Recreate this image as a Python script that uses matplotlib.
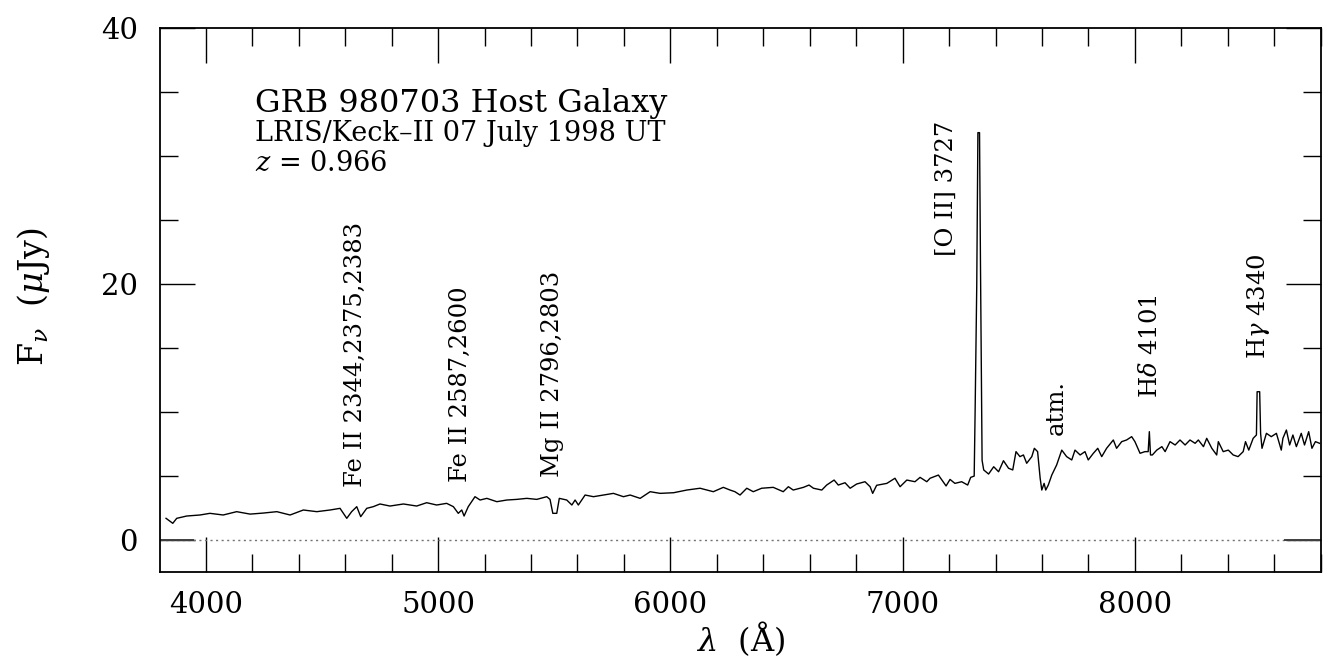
import matplotlib
matplotlib.use("Agg")
import matplotlib.pyplot as plt

wavelength = [3829, 3858, 3875, 3918, 3975, 4018, 4075, 4133, 4191, 4247,
              4306, 4363, 4420, 4478, 4535, 4578, 4607, 4628, 4650, 4667,
              4693, 4721, 4750, 4793, 4851, 4908, 4951, 4994, 5037, 5066,
              5087, 5102, 5112, 5130, 5159, 5181, 5210, 5253, 5296, 5339,
              5382, 5425, 5468, 5482, 5494, 5511, 5522, 5554, 5576, 5590,
              5604, 5633, 5669, 5712, 5755, 5798, 5827, 5870, 5913, 5956,
              6014, 6071, 6128, 6185, 6228, 6257, 6278, 6300, 6329, 6357,
              6393, 6443, 6486, 6508, 6529, 6573, 6597, 6616, 6652, 6673,
              6705, 6723, 6752, 6774, 6802, 6838, 6860, 6871, 6888, 6932,
              6967, 6989, 7018, 7053, 7075, 7104, 7118, 7154, 7169, 7187,
              7204, 7225, 7254, 7280, 7293, 7308, 7312, 7319, 7324, 7331,
              7335, 7342, 7349, 7370, 7392, 7413, 7434, 7456, 7474, 7488,
              7505, 7520, 7534, 7556, 7567, 7581, 7592, 7599, 7609, 7616,
              7627, 7642, 7663, 7685, 7706, 7728, 7742, 7764, 7785, 7799,
              7821, 7840, 7857, 7878, 7907, 7921, 7943, 7964, 7986, 8000,
              8022, 8043, 8057, 8062, 8067, 8075, 8094, 8116, 8130, 8151,
              8173, 8194, 8216, 8237, 8259, 8273, 8295, 8309, 8331, 8352,
              8359, 8380, 8402, 8423, 8444, 8466, 8476, 8490, 8509, 8523,
              8526, 8537, 8541, 8547, 8566, 8587, 8609, 8630, 8637, 8652,
              8666, 8680, 8695, 8716, 8730, 8748, 8762, 8777, 8795]
flux = [1.67, 1.28, 1.67, 1.85, 1.93, 2.06, 1.93, 2.19, 2.00, 2.08,
        2.19, 1.93, 2.32, 2.19, 2.32, 2.45, 1.67, 2.19, 2.58, 1.80,
        2.45, 2.58, 2.79, 2.63, 2.79, 2.63, 2.89, 2.71, 2.84, 2.58,
        2.06, 2.32, 1.85, 2.58, 3.36, 3.10, 3.23, 2.97, 3.10, 3.15,
        3.23, 3.15, 3.36, 3.15, 2.06, 2.06, 3.23, 3.10, 2.71, 3.10,
        2.71, 3.49, 3.36, 3.49, 3.62, 3.36, 3.49, 3.23, 3.75, 3.62,
        3.67, 3.88, 4.02, 3.75, 4.09, 3.88, 3.75, 3.49, 4.02, 3.75,
        4.02, 4.09, 3.75, 4.14, 3.88, 4.09, 4.27, 4.02, 3.88, 4.27,
        4.66, 4.27, 4.45, 4.02, 4.35, 4.53, 4.14, 3.62, 4.25, 4.40,
        4.80, 4.14, 4.66, 4.53, 4.87, 4.53, 4.80, 5.05, 4.66, 4.20,
        4.71, 4.40, 4.53, 4.27, 4.87, 4.97, 10.0, 19.8, 31.8, 31.8,
        21.7, 6.20, 5.45, 5.13, 5.70, 5.31, 6.17, 5.58, 5.45, 6.88,
        6.49, 6.62, 5.97, 6.49, 7.14, 6.88, 4.80, 3.88, 4.40, 3.88,
        4.27, 5.05, 5.84, 7.00, 6.49, 6.23, 7.00, 6.62, 6.88, 6.23,
        6.75, 7.14, 6.49, 7.14, 7.79, 7.14, 7.66, 7.79, 8.05, 7.66,
        6.75, 6.88, 6.88, 8.44, 6.62, 6.62, 7.00, 7.27, 6.88, 7.66,
        7.40, 7.79, 7.40, 7.79, 7.53, 7.79, 7.27, 7.92, 7.14, 6.62,
        7.66, 6.88, 7.00, 6.62, 6.49, 6.88, 7.66, 7.00, 7.92, 8.18,
        11.56, 11.56, 8.31, 7.14, 8.31, 8.05, 8.31, 7.00, 7.92, 8.57,
        7.40, 8.18, 7.27, 8.31, 7.40, 8.44, 7.14, 7.66, 7.53]

# Line identifications: text, wavelength of label, flux at label bottom
line_names = ["Fe II 2344,2375,2383", "Fe II 2587,2600", "Mg II 2796,2803",
              "[O II] 3727", "atm.", r"H$\delta$ 4101", r"H$\gamma$ 4340"]
line_wave = [4643, 5095, 5491, 7190, 7663, 8065, 8530]
line_flux = [4.1, 4.5, 4.9, 22.2, 8.2, 11.1, 14.1]

plt.rcParams['font.family'] = ['DejaVu Serif']
plt.rcParams['mathtext.fontset'] = 'dejavuserif'

W, H = 1323, 667
fig = plt.figure(figsize=(W / 100, H / 100), dpi=100)
ax = fig.add_axes([160 / W, 1 - 571.7 / H, 1161 / W, 544 / H])

# zero level: dotted, with short solid bits at the ends
ax.axhline(0, color="0.45", lw=1.0, ls=(0, (1.5, 2.5)))
ax.plot([3803, 3946], [0, 0], color="0.25", lw=1.4)
ax.plot([8646, 8801], [0, 0], color="0.25", lw=1.4)

ax.plot(wavelength, flux, color="black", lw=1.0)

for name, lw_, lf in zip(line_names, line_wave, line_flux):
    ax.text(lw_, lf, name, rotation=90, ha="center", va="bottom", fontsize=17.5)

ax.set_xlim(3803, 8801)
ax.set_ylim(-2.5, 40)
ax.set_xticks([4000, 5000, 6000, 7000, 8000])
ax.set_xticks(range(4200, 8801, 200), minor=True)
ax.set_yticks([0, 20, 40])
ax.set_yticks(range(5, 40, 5), minor=True)
ax.tick_params(which="both", direction="in", top=True, right=True,
               labelsize=21, width=1.0)
ax.tick_params(which="major", length=25)
ax.tick_params(which="minor", length=13)
ax.tick_params(axis="x", pad=14)
ax.tick_params(axis="y", pad=16)
for s in ax.spines.values():
    s.set_linewidth(1.3)

ax.set_xlabel(r"$\lambda$  ($\mathrm{\AA}$)", fontsize=23, labelpad=0)
fig.text(33 / W, 1 - 297 / H, r"F$_\nu$  ($\mu$Jy)", rotation=90,
         ha="center", va="center", fontsize=24)

fig.text(255 / W, 1 - 111.7 / H, "GRB 980703 Host Galaxy", fontsize=23,
         ha="left", va="baseline")
fig.text(255 / W, 1 - 141 / H, "LRIS/Keck–II 07 July 1998 UT", fontsize=19.5,
         ha="left", va="baseline")
fig.text(255 / W, 1 - 171 / H, r"$z$ = 0.966", fontsize=19.5,
         ha="left", va="baseline")

fig.savefig("out.png", dpi=100)
